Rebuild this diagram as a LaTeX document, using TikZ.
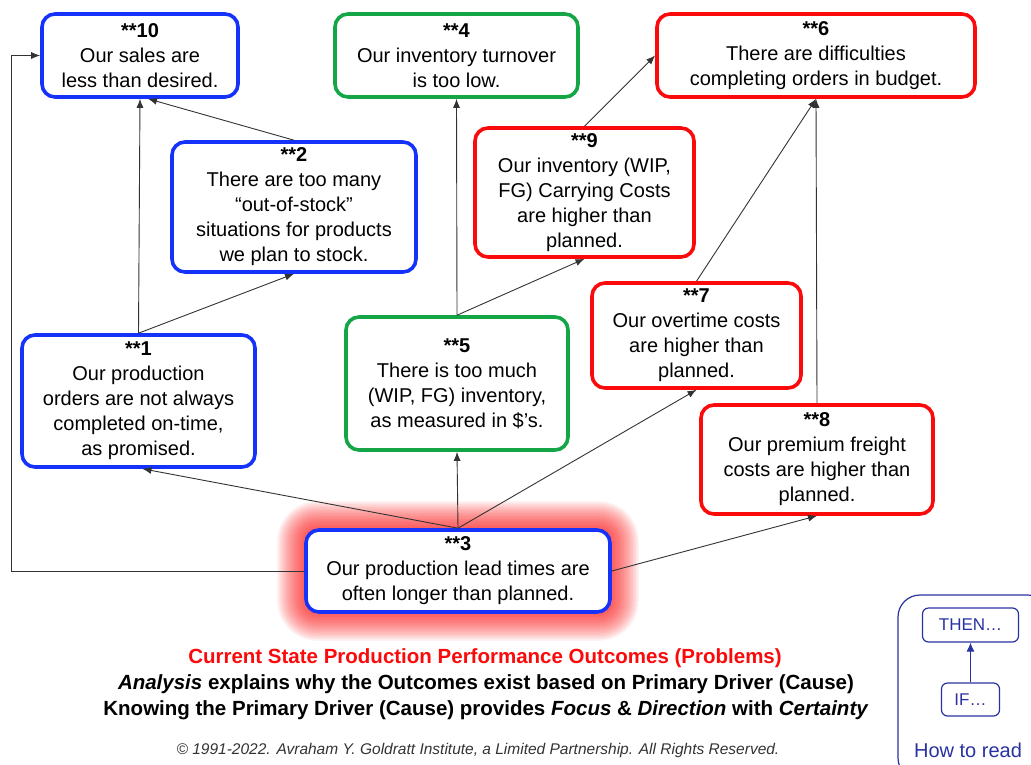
\documentclass[tikz,border=0pt]{standalone}
\usepackage{fontspec}
\setmainfont{Liberation Sans}
\usetikzlibrary{arrows.meta,backgrounds,calc}

\definecolor{crtblue}{RGB}{20,50,250}
\definecolor{crtgreen}{RGB}{20,165,70}
\definecolor{crtred}{RGB}{250,10,10}
\definecolor{howblue}{RGB}{40,50,160}

\begin{document}
\begin{tikzpicture}[x=1pt,y=-1pt,
    ent/.style = {draw, line width=3.6pt, rounded corners=13pt, fill=white,
                  align=center, inner sep=2pt, font=\fontsize{20}{25}\selectfont},
    cause/.style = {draw=black!80, line width=0.9pt, -{Latex[length=9pt,width=7pt]}},
    howbox/.style = {draw=howblue, line width=1.2pt, rounded corners=6pt,
                     text=howblue, font=\fontsize{17}{20}\selectfont}]
  \useasboundingbox (0,0) rectangle (1031,764);

  % Top row
  \node[ent,draw=crtblue,minimum width=196,minimum height=83] (b10) at (140,55.5)
    {\textbf{**10}\\Our sales are\\less than desired.};
  \node[ent,draw=crtgreen,minimum width=243,minimum height=83] (b4) at (456.5,55.5)
    {\textbf{**4}\\Our inventory turnover\\is too low.};
  \node[ent,draw=crtred,minimum width=318,minimum height=83] (b6) at (816,55.5)
    {\textbf{**6}\\There are difficulties\\completing orders in budget.};

  % Second row
  \node[ent,draw=crtblue,minimum width=244,minimum height=130] (b2) at (294,207)
    {\textbf{**2}\\There are too many\\“out-of-stock”\\situations for products\\we plan to stock.};
  \node[ent,draw=crtred,minimum width=219,minimum height=129] (b9) at (584.5,192.5)
    {\textbf{**9}\\Our inventory (WIP,\\FG) Carrying Costs\\are higher than\\planned.};

  % Third row
  \node[ent,draw=crtblue,minimum width=233,minimum height=132] (b1) at (138.5,401)
    {\textbf{**1}\\Our production\\orders are not always\\completed on-time,\\as promised.};
  \node[ent,draw=crtgreen,minimum width=222,minimum height=133] (b5) at (457,383.5)
    {\textbf{**5}\\There is too much\\(WIP, FG) inventory,\\as measured in \$’s.};
  \node[ent,draw=crtred,minimum width=209,minimum height=105] (b7) at (696.5,335.5)
    {\textbf{**7}\\Our overtime costs\\are higher than\\planned.};
  \node[ent,draw=crtred,minimum width=232,minimum height=109] (b8) at (817,459.5)
    {\textbf{**8}\\Our premium freight\\costs are higher than\\planned.};

  % Primary driver
  \node[ent,draw=crtblue,minimum width=304,minimum height=82] (b3) at (458,571)
    {\textbf{**3}\\Our production lead times are\\often longer than planned.};

  % Glow round the driver
  \begin{scope}[on background layer]
    \foreach \g in {1,...,18}
      \fill[crtred,opacity=0.055,rounded corners=13pt+1.5*\g pt]
        ($(b3.south west)+(-1.5*\g,1.5*\g)$) rectangle ($(b3.north east)+(1.5*\g,-1.5*\g)$);
  \end{scope}

  % Cause and effect
  \coordinate (lft) at (11,0);
  \draw[cause] (b3.west) -- (b3.west -| lft) |- (b10.west);
  \draw[cause] (b3.north) -- ([xshift=4]b1.south);
  \draw[cause] (b3.north) -- (b5.south);
  \draw[cause] (b3.north) -- (b7.south);
  \draw[cause] (b3.east) -- (b8.south);
  \draw[cause] (b1.north) -- (b10.south);
  \draw[cause] (b1.north) -- (b2.south);
  \draw[cause] (b2.north) -- ([xshift=8]b10.south);
  \draw[cause] (b5.north) -- (b4.south);
  \draw[cause] (b5.north) -- (b9.south);
  \draw[cause] (b9.north) -- (b6.west);
  \draw[cause] (b7.north) -- (b6.south);
  \draw[cause] (b8.north) -- (b6.south);

  % Captions
  \node[text=crtred,font=\bfseries\fontsize{20.5}{22}\selectfont] (ttl) at (485,658)
    {Current State Production Performance Outcomes (Problems)};
  \node[font=\bfseries\fontsize{20.5}{22}\selectfont] (ana) at (486,684)
    {\textit{Analysis} explains why the Outcomes exist based on Primary Driver (Cause)};
  \node[font=\bfseries\fontsize{20.5}{22}\selectfont] (knw) at (486,710)
    {Knowing the Primary Driver (Cause) provides \textit{Focus} \& \textit{Direction} with \textit{Certainty}};
  \node[font=\itshape\fontsize{15.5}{17}\selectfont,text=black!80] (cpy) at (478,750)
    {© 1991-2022. Avraham Y. Goldratt Institute, a Limited Partnership. All Rights Reserved.};

  % How to read
  \draw[draw=howblue,line width=1.2pt,rounded corners=22pt] (898,595) rectangle (1050,780);
  \node[howbox,minimum width=96,minimum height=34] (thn) at (970.5,625) {THEN…};
  \node[howbox,minimum width=58,minimum height=33] (iff) at (970.5,699.5) {IF…};
  \draw[draw=howblue,line width=1pt,-{Latex[length=9pt,width=8pt]}] (iff) -- (thn);
  \node[text=howblue,font=\fontsize{20}{22}\selectfont] (hwr) at (968,750) {How to read};
\end{tikzpicture}
\end{document}
